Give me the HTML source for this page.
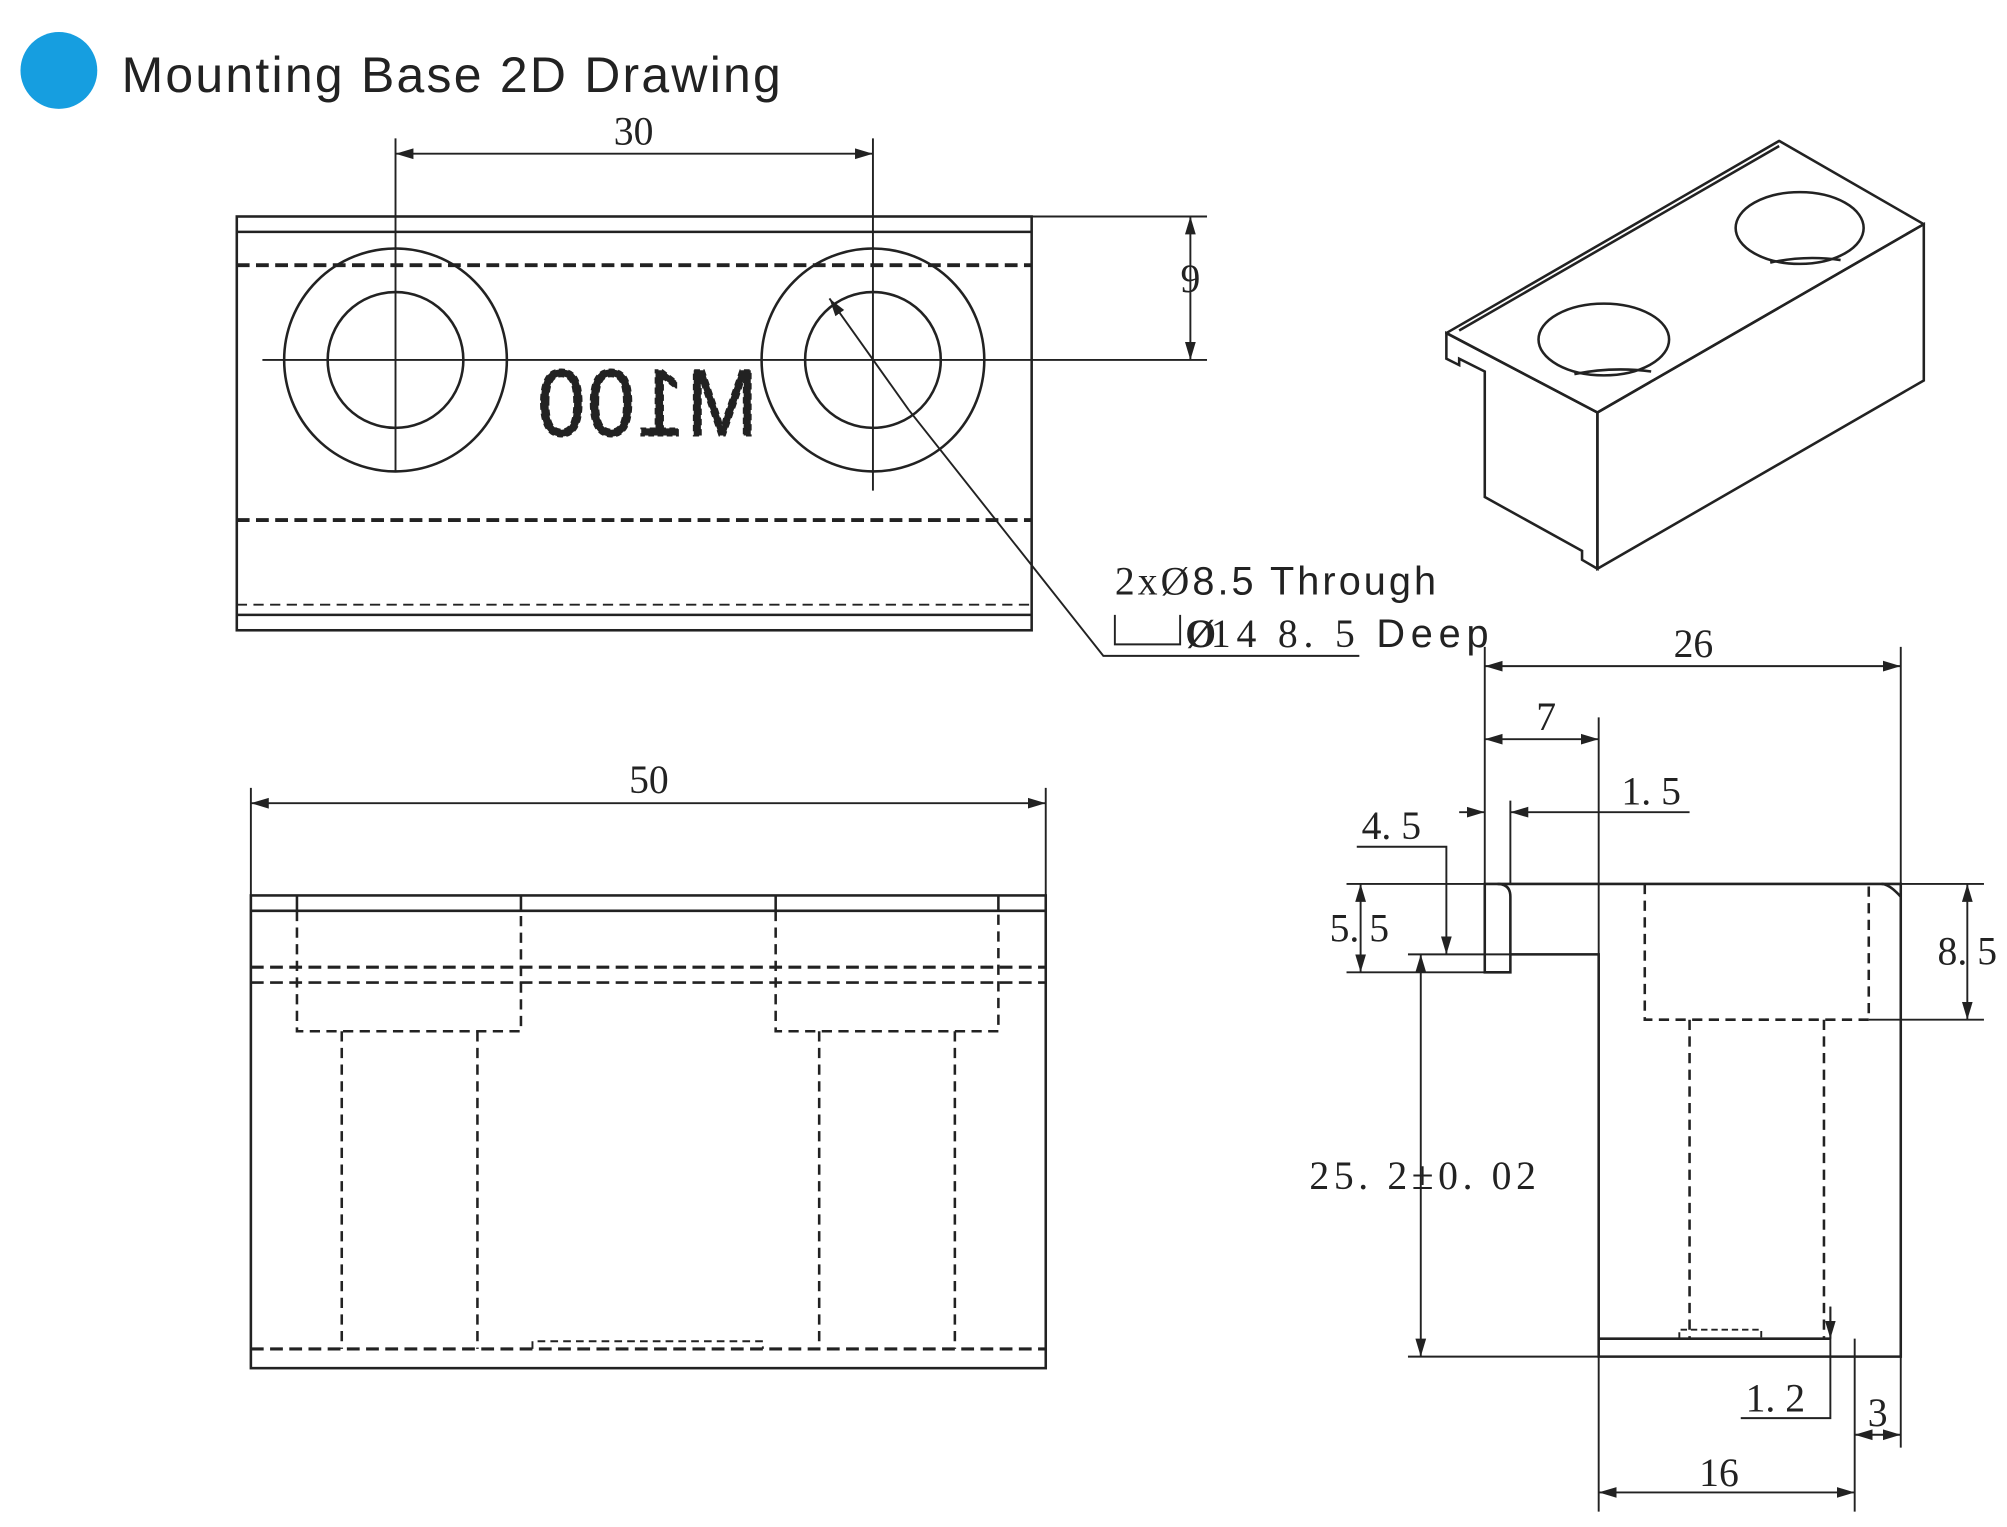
<!DOCTYPE html>
<html><head><meta charset="utf-8"><style>
html,body{margin:0;padding:0;background:#fff;}
svg{display:block;}
text{font-family:"Liberation Serif",serif;fill:#222;}
</style></head><body>
<svg width="2007" height="1527" viewBox="0 0 1568 1192" preserveAspectRatio="none" xmlns="http://www.w3.org/2000/svg">
<defs>
<marker id="a" viewBox="0 0 10 10" refX="10" refY="5" markerWidth="14" markerHeight="14" markerUnits="userSpaceOnUse" orient="auto-start-reverse"><path d="M0,2 L10,5 L0,8 Z" fill="#222"/></marker>
</defs>
<circle cx="46" cy="55" r="30" fill="#169ee0"/>
<text x="95" y="72" font-size="39" textLength="515" style="font-family:'Liberation Sans',sans-serif" fill="#222">Mounting Base 2D Drawing</text>

<g stroke="#222" stroke-width="2" fill="none">
<rect x="185" y="169" width="621" height="323"/>
<line x1="185" y1="181" x2="806" y2="181"/>
<line x1="185" y1="207" x2="806" y2="207" stroke-dasharray="10,5" stroke-width="3"/>
<line x1="185" y1="406" x2="806" y2="406" stroke-dasharray="10,5" stroke-width="3"/>
<line x1="185" y1="472" x2="806" y2="472" stroke-dasharray="8,5" stroke-width="1.5"/>
<line x1="185" y1="480" x2="806" y2="480"/>
<circle cx="309" cy="281" r="87"/><circle cx="309" cy="281" r="53"/>
<circle cx="682" cy="281" r="87"/><circle cx="682" cy="281" r="53"/>
<line x1="309" y1="108" x2="309" y2="368" stroke-width="1.5"/>
<line x1="682" y1="108" x2="682" y2="383" stroke-width="1.5"/>
<line x1="205" y1="281" x2="943" y2="281" stroke-width="1.5"/>
<line x1="309" y1="120" x2="682" y2="120" marker-start="url(#a)" marker-end="url(#a)" stroke-width="1.5"/>
<line x1="806" y1="169" x2="943" y2="169" stroke-width="1.5"/>
<line x1="930" y1="169" x2="930" y2="281" marker-start="url(#a)" marker-end="url(#a)" stroke-width="1.5"/>
<path d="M710,320 L648,233" marker-end="url(#a)" stroke-width="1.5"/>
<path d="M710,320 L862,512 L1062,512" stroke-width="1.5"/>
<path d="M871,480 L871,503 L922,503 L922,480" stroke-width="1.5"/>

<rect x="196" y="699" width="621" height="369"/>
<line x1="196" y1="711" x2="817" y2="711"/>
<line x1="196" y1="755" x2="817" y2="755" stroke-dasharray="10,5" stroke-width="2.5"/>
<line x1="196" y1="767" x2="817" y2="767" stroke-dasharray="10,5"/>
<line x1="196" y1="1053" x2="817" y2="1053" stroke-dasharray="10,5" stroke-width="2.5"/>
<line x1="232" y1="699" x2="232" y2="711"/><line x1="407" y1="699" x2="407" y2="711"/>
<line x1="606" y1="699" x2="606" y2="711"/><line x1="780" y1="699" x2="780" y2="711"/>
<path d="M232,711 V805 H407 V711" stroke-dasharray="8,5"/>
<path d="M606,711 V805 H780 V711" stroke-dasharray="8,5"/>
<path d="M267,805 V1053 M373,805 V1053 M640,805 V1053 M746,805 V1053" stroke-dasharray="8,5"/>
<line x1="196" y1="615" x2="196" y2="699" stroke-width="1.5"/>
<line x1="817" y1="615" x2="817" y2="699" stroke-width="1.5"/>
<line x1="196" y1="627" x2="817" y2="627" marker-start="url(#a)" marker-end="url(#a)" stroke-width="1.5"/>
<path d="M416,1053 v-6 h180 v6" stroke-dasharray="6,4" stroke-width="1.5"/>

<path d="M1160,690 L1485,690 L1485,1059 L1249,1059 L1249,745 L1180,745 L1180,759 L1160,759 Z"/>
<path d="M1180,745 V700 Q1180,690 1170,690"/>
<path d="M1485,700 Q1476,690 1470,690" />
<line x1="1249" y1="1045" x2="1430" y2="1045"/>
<path d="M1285,690 V796 H1460 V690" stroke-dasharray="8,5"/>
<path d="M1320,796 V1045 M1425,796 V1045" stroke-dasharray="8,5"/>
<path d="M1312,1045 v-7 h64 v7" stroke-width="1.5" stroke-dasharray="5,3"/>
<g stroke-width="1.5">
<line x1="1160" y1="505" x2="1160" y2="690"/><line x1="1485" y1="505" x2="1485" y2="690"/>
<line x1="1160" y1="520" x2="1485" y2="520" marker-start="url(#a)" marker-end="url(#a)"/>
<line x1="1249" y1="560" x2="1249" y2="745"/>
<line x1="1160" y1="577" x2="1249" y2="577" marker-start="url(#a)" marker-end="url(#a)"/>
<line x1="1140" y1="634" x2="1160" y2="634" marker-end="url(#a)"/>
<line x1="1320" y1="634" x2="1180" y2="634" marker-end="url(#a)"/>
<line x1="1180" y1="625" x2="1180" y2="690"/>
<path d="M1060,661 H1130 V745" marker-end="url(#a)"/>
<line x1="1052" y1="690" x2="1160" y2="690"/>
<line x1="1052" y1="759" x2="1160" y2="759"/>
<line x1="1063" y1="690" x2="1063" y2="759" marker-start="url(#a)" marker-end="url(#a)"/>
<line x1="1485" y1="690" x2="1550" y2="690"/>
<line x1="1460" y1="796" x2="1550" y2="796"/>
<line x1="1537" y1="690" x2="1537" y2="796" marker-start="url(#a)" marker-end="url(#a)"/>
<line x1="1100" y1="745" x2="1249" y2="745"/>
<line x1="1100" y1="1059" x2="1249" y2="1059"/>
<line x1="1110" y1="745" x2="1110" y2="1059" marker-start="url(#a)" marker-end="url(#a)"/>
<path d="M1360,1107 H1430 V1020" /><line x1="1430" y1="1020" x2="1430" y2="1045" marker-end="url(#a)"/>
<line x1="1449" y1="1045" x2="1449" y2="1180"/>
<line x1="1485" y1="1059" x2="1485" y2="1130"/>
<line x1="1449" y1="1120" x2="1485" y2="1120" marker-start="url(#a)" marker-end="url(#a)"/>
<line x1="1249" y1="1059" x2="1249" y2="1180"/>
<line x1="1249" y1="1165" x2="1449" y2="1165" marker-start="url(#a)" marker-end="url(#a)"/>
</g>

<path d="M1130,260 L1390,110 L1503,175 L1248,322 Z" stroke-linejoin="round"/>
<path d="M1248,322 L1503,175 L1503,297 L1248,444 Z"/>
<path d="M1130,260 L1248,322 L1248,444 L1236,437 L1236,430 L1160,388 L1160,290 L1140,280 L1140,285 L1130,280 Z"/>
<line x1="1140" y1="258" x2="1390" y2="114"/>
<ellipse cx="1253" cy="265" rx="51" ry="28"/>
<ellipse cx="1406" cy="178" rx="50" ry="28"/>
<path d="M1230,292 Q1260,286 1290,290"/>
<path d="M1383,205 Q1410,199 1438,203"/>
</g>

<text transform="translate(592,340) scale(-0.9,1)" font-size="74" style="font-family:'Liberation Sans',sans-serif" fill="none" stroke="#222" stroke-width="1.5" stroke-dasharray="5,3" letter-spacing="2">M100</text>

<g font-size="31">
<text x="495" y="113" text-anchor="middle">30</text>
<text x="930" y="228" text-anchor="middle">9</text>
<text x="507" y="619" text-anchor="middle">50</text>
<text x="871" y="464" textLength="251">2xØ<tspan style="font-family:'Liberation Sans',sans-serif">8.5 Through</tspan></text>
<text x="926" y="505" font-weight="bold">Ø</text>
<text x="946" y="505" textLength="217">14  8. 5  <tspan style="font-family:'Liberation Sans',sans-serif">Deep</tspan></text>
<text x="1323" y="513" text-anchor="middle">26</text>
<text x="1208" y="570" text-anchor="middle">7</text>
<text x="1290" y="628" text-anchor="middle">1. 5</text>
<text x="1087" y="655" text-anchor="middle">4. 5</text>
<text x="1062" y="735" text-anchor="middle">5. 5</text>
<text x="1537" y="753" text-anchor="middle">8. 5</text>
<text x="1023" y="928" textLength="177">25. 2±0. 02</text>
<text x="1387" y="1102" text-anchor="middle">1. 2</text>
<text x="1467" y="1113" text-anchor="middle">3</text>
<text x="1343" y="1160" text-anchor="middle">16</text>
</g>
</svg>
</body></html>
